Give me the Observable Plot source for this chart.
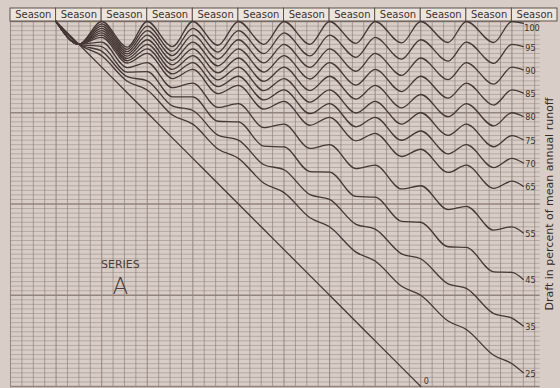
<!DOCTYPE html>
<html><head><meta charset="utf-8">
<script src="https://cdn.jsdelivr.net/npm/d3@7"></script>
<script src="https://cdn.jsdelivr.net/npm/@observablehq/plot@0.6"></script>
<style>
html,body{margin:0;padding:0;background:#d9cec7;}
#chart{width:560px;height:388px;overflow:hidden;}
</style></head><body><div id="chart"></div>
<script>
// Season header labels (one box per season)
const seasonLabels = ["Season","Season","Season","Season","Season","Season","Season","Season","Season","Season","Season","Season"];
const seasonStarts = [0,1,2,3,4,5,6,7,8,9,10,11];
// Series A inflow record: time (seasons) and cumulative inflow (in mean-seasonal-runoff units)
const times     = [1, 1.5, 2, 2.56, 3, 3.55, 4, 4.55, 5, 5.56, 6, 6.57, 7, 7.58, 8, 8.58, 9, 9.6, 10, 10.6, 11, 11.25];
const cumInflow = [0, 0,   1, 1.0,  2, 2.0,  3, 3.03, 4, 4.06, 5, 5.07, 6, 6.10, 7, 7.11, 8, 8.14, 9, 9.14, 10, 10.21];
// Draft levels (percent of mean annual runoff) and their labels
const draftPercents = [100, 95, 90, 85, 80, 75, 70, 65, 55, 45, 35, 25, 0];
const draftLabels   = ["100","95","90","85","80","75","70","65","55","45","35","25","0"];
// Annotation texts
const seriesTitle = "SERIES";
const seriesLetter = "A";
const yTitle = "Draft in percent of mean annual runoff";

// mass-curve rows: cumulative draft minus cumulative inflow
const rows = [];
draftPercents.forEach((d, k) => {
  times.forEach((t, i) => {
    if (d === 0 && t > 9) return;
    rows.push({draft: d, label: draftLabels[k], t, y: (t - 1) - d / 100 * cumInflow[i]});
  });
});
const ends = draftPercents.map(d => { const r = rows.filter(q => q.draft === d); return r[r.length - 1]; });
const endsTop = ends.filter(e => e.draft === 100);
const endsZero = ends.filter(e => e.draft === 0);
const endsMid = ends.filter(e => e.draft !== 100 && e.draft !== 0);

const gridX = d3.range(0, 11.6, 0.25);
const gridY = d3.range(0, 8.001, 0.1).map(v => Math.round(v * 10) / 10);
const ink = "#453835";
const gridCol = "#8f807b";
const labelFont = "Liberation Sans Narrow, DejaVu Sans Condensed, sans-serif";

const chart = Plot.plot({
  width: 560, height: 388,
  marginLeft: 10, marginRight: 3, marginTop: 21, marginBottom: 2,
  x: {domain: [0, 12], axis: null},
  y: {domain: [0, 8], reverse: true, axis: null},
  style: {background: "#d9cec7", fontFamily: "Liberation Sans, Arial, sans-serif"},
  marks: [
    Plot.ruleY(gridY, {y: d => d, x1: () => 0, x2: () => 11.62,
      stroke: gridCol, strokeWidth: d => (Math.abs(d % 2) < 1e-6 ? 1.3 : 0.7), strokeOpacity: d => (Math.abs(d % 2) < 1e-6 ? 0.95 : 0.7)}),
    Plot.ruleX(gridX, {x: d => d, y1: () => 0, y2: () => 8,
      stroke: gridCol, strokeWidth: d => (Number.isInteger(d) ? 1.1 : 0.8), strokeOpacity: 0.85}),
    Plot.rect(seasonStarts, {x1: d => d, x2: d => d + 1, y1: () => -0.285, y2: () => 0,
      fill: "#ece5de", stroke: "#5e514d", strokeWidth: 1}),
    Plot.text(seasonStarts, {x: d => d + 0.5, y: () => -0.14, text: (d, i) => seasonLabels[i],
      fontSize: 10, fill: "#3d3330", fontFamily: "DejaVu Sans, sans-serif"}),
    Plot.line(rows, {x: "t", y: "y", z: "draft", curve: "monotone-x", stroke: ink, strokeWidth: 1.3}),
    Plot.text(endsMid, {x: "t", y: "y", text: "label", dx: 2, dy: 1, textAnchor: "start",
      fontSize: 9, fill: "#3d3330", fontFamily: labelFont}),
    Plot.text(endsTop, {x: "t", y: "y", text: "label", dx: 1, dy: 5, textAnchor: "start",
      fontSize: 9, fill: "#3d3330", fontFamily: labelFont}),
    Plot.text(endsZero, {x: "t", y: "y", text: "label", dx: 3, dy: -5, textAnchor: "start",
      fontSize: 9, fill: "#3d3330", fontFamily: labelFont}),
    Plot.text([seriesTitle], {x: () => 2.41, y: () => 5.33, text: d => d, fontSize: 11, fill: "#4a3f3c",
      fontFamily: "DejaVu Sans, sans-serif", letterSpacing: "1px"}),
    Plot.text([seriesLetter], {x: () => 2.41, y: () => 5.8, text: d => d, fontSize: 23, fill: "#4a3f3c",
      fontFamily: "DejaVu Sans, sans-serif", fontWeight: 300}),
    Plot.text([yTitle], {x: () => 11.82, y: () => 4.0, text: d => d, rotate: -90, fontSize: 11,
      fill: "#332926", fontFamily: "DejaVu Sans, sans-serif"})
  ]
});
document.getElementById("chart").appendChild(chart);
</script></body></html>
